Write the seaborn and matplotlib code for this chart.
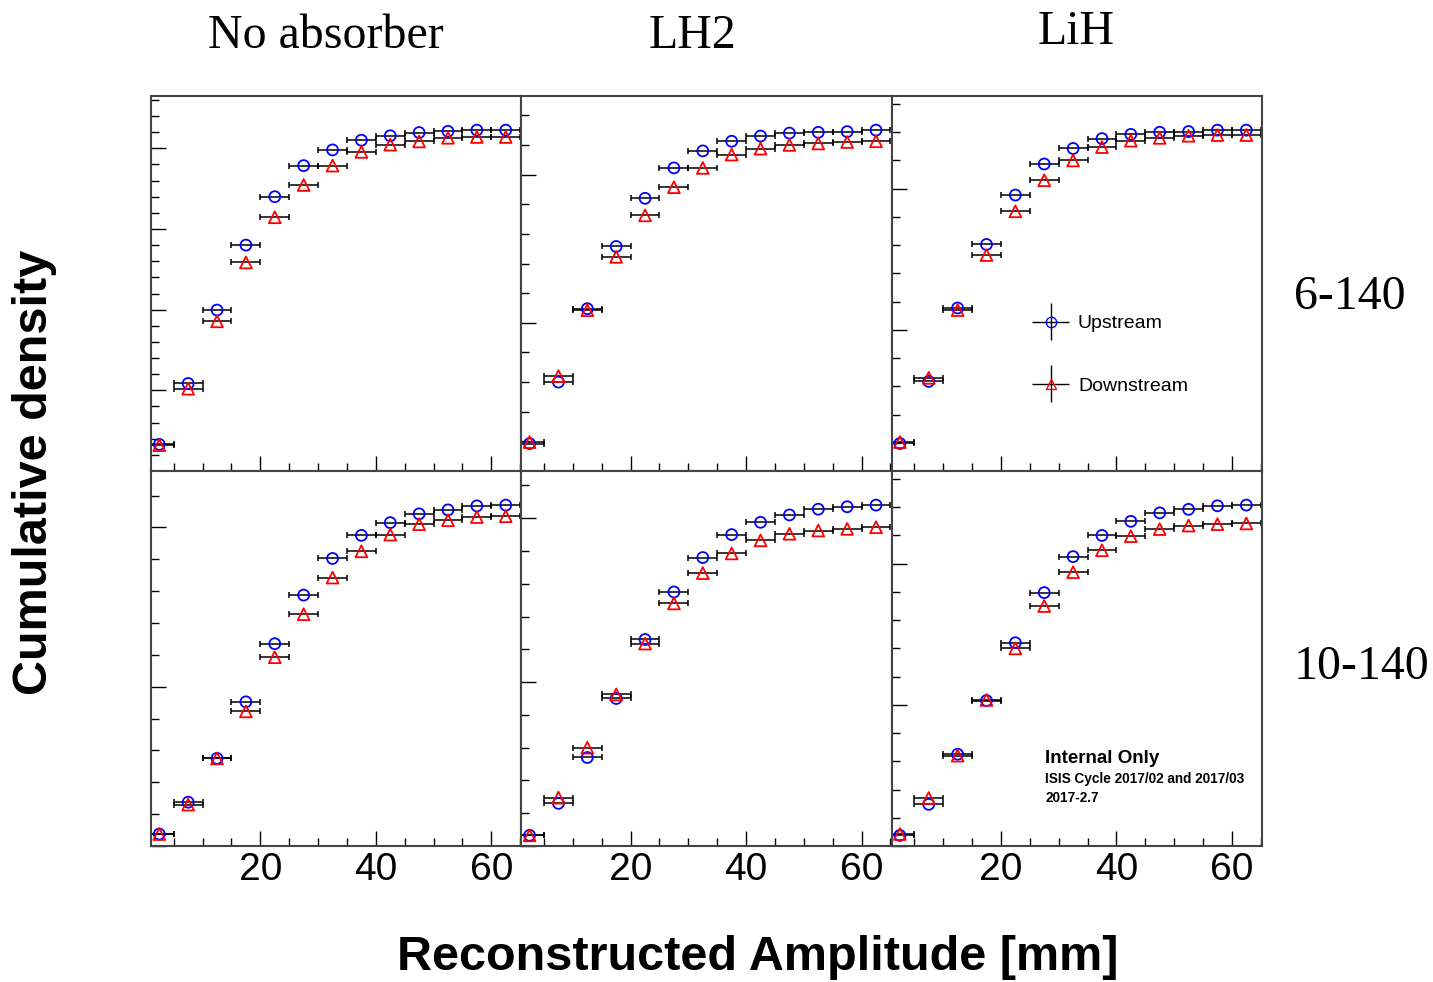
import numpy as np
import pandas as pd
import matplotlib
matplotlib.use('Agg')
import matplotlib.pyplot as plt
from matplotlib.ticker import MultipleLocator, NullFormatter
from matplotlib.container import ErrorbarContainer
from matplotlib.legend_handler import HandlerErrorbar
import seaborn as sns

sns.set_style('ticks')
plt.rcParams['font.family'] = ['Liberation Sans', 'DejaVu Sans']
plt.rcParams['text.color'] = 'black'
plt.rcParams['xtick.color'] = 'black'
plt.rcParams['ytick.color'] = 'black'

# bin centres [mm], every bin is 5 mm wide
amplitude = [2.5, 7.5, 12.5, 17.5, 22.5, 27.5, 32.5, 37.5, 42.5, 47.5, 52.5, 57.5, 62.5]
bin_half_width = 2.5

absorbers = ['No absorber', 'LH2', 'LiH']
emittances = ['6-140', '10-140']

# cumulative density (rows: 6-140, 10-140; cols: No absorber, LH2, LiH)
up_6_none = [0.066, 0.217, 0.399, 0.560, 0.680, 0.757, 0.796, 0.820, 0.831, 0.839, 0.842, 0.845, 0.845]
down_6_none = [0.064, 0.204, 0.371, 0.517, 0.629, 0.709, 0.757, 0.791, 0.809, 0.817, 0.826, 0.828, 0.828]
up_6_lh2 = [0.037, 0.120, 0.219, 0.303, 0.368, 0.409, 0.432, 0.445, 0.452, 0.456, 0.457, 0.458, 0.460]
down_6_lh2 = [0.039, 0.128, 0.217, 0.289, 0.345, 0.383, 0.409, 0.427, 0.435, 0.440, 0.442, 0.444, 0.445]
up_6_lih = [0.039, 0.127, 0.231, 0.321, 0.391, 0.435, 0.457, 0.471, 0.477, 0.480, 0.481, 0.483, 0.483]
down_6_lih = [0.041, 0.132, 0.228, 0.306, 0.368, 0.412, 0.440, 0.459, 0.468, 0.472, 0.475, 0.476, 0.476]
up_10_none = [0.015, 0.055, 0.110, 0.181, 0.254, 0.315, 0.361, 0.390, 0.406, 0.417, 0.422, 0.427, 0.428]
down_10_none = [0.015, 0.052, 0.110, 0.169, 0.237, 0.291, 0.337, 0.370, 0.391, 0.404, 0.409, 0.413, 0.414]
up_10_lh2 = [0.013, 0.052, 0.108, 0.180, 0.252, 0.310, 0.352, 0.380, 0.395, 0.404, 0.411, 0.414, 0.416]
down_10_lh2 = [0.013, 0.059, 0.120, 0.185, 0.247, 0.296, 0.333, 0.357, 0.373, 0.381, 0.385, 0.387, 0.389]
up_10_lih = [0.015, 0.059, 0.130, 0.206, 0.288, 0.359, 0.410, 0.440, 0.460, 0.472, 0.477, 0.482, 0.483]
down_10_lih = [0.017, 0.068, 0.128, 0.207, 0.280, 0.340, 0.388, 0.419, 0.439, 0.449, 0.454, 0.456, 0.457]

upstream = [[up_6_none, up_6_lh2, up_6_lih], [up_10_none, up_10_lh2, up_10_lih]]
downstream = [[down_6_none, down_6_lh2, down_6_lih], [down_10_none, down_10_lh2, down_10_lih]]

frame_col = '#444444'

fig, axes = plt.subplots(2, 3, figsize=(14.33, 9.82), dpi=100)
fig.subplots_adjust(left=0.1054, right=0.8806, bottom=0.1385, top=0.9022, wspace=0, hspace=0)

for r in range(2):
    for c in range(3):
        ax = axes[r, c]
        df = pd.DataFrame({'amp': amplitude * 2,
                           'cdf': upstream[r][c] + downstream[r][c],
                           'side': ['Upstream'] * 13 + ['Downstream'] * 13})
        up = df[df['side'] == 'Upstream']
        dn = df[df['side'] == 'Downstream']
        ax.errorbar(up['amp'], up['cdf'], xerr=bin_half_width, fmt='none', ecolor='black',
                    elinewidth=1.1, capsize=2, capthick=1.1, zorder=2)
        ax.errorbar(dn['amp'], dn['cdf'], xerr=bin_half_width, fmt='none', ecolor='black',
                    elinewidth=1.1, capsize=2, capthick=1.1, zorder=2)
        sns.scatterplot(data=up, x='amp', y='cdf', marker='o', s=62, fc='none', ec='blue',
                        linewidth=1.3, ax=ax, zorder=3)
        sns.scatterplot(data=dn, x='amp', y='cdf', marker='^', s=72, fc='none', ec='red',
                        linewidth=1.3, ax=ax, zorder=3)

        ax.set_xlim(1.07, 65.2)
        ax.set_ylim(0, 1.1 * max(upstream[r][c]))
        ax.xaxis.set_major_locator(MultipleLocator(20))
        ax.xaxis.set_minor_locator(MultipleLocator(5))
        ax.yaxis.set_major_locator(MultipleLocator(0.2))
        ax.yaxis.set_minor_locator(MultipleLocator(0.04))
        ax.yaxis.set_major_formatter(NullFormatter())
        if r == 0:
            ax.xaxis.set_major_formatter(NullFormatter())
        ax.tick_params(which='both', direction='in', top=False, right=False, color='black', width=1)
        ax.tick_params(which='major', length=11, labelsize=28, pad=4, labelcolor='black')
        ax.tick_params(which='minor', length=6)
        ax.set_xlabel('')
        ax.set_ylabel('')
        for sp in ax.spines.values():
            sp.set_color(frame_col)
            sp.set_linewidth(1.5)
            sp.set_visible(True)

# legend in the LiH 6-140 panel
ax = axes[0, 2]
h_up = ax.errorbar([np.nan], [np.nan], xerr=[1], yerr=[1], fmt='o', mfc='none', mec='blue',
                   ms=7.5, ecolor='black', elinewidth=1, capsize=0, label='Upstream')
h_dn = ax.errorbar([np.nan], [np.nan], xerr=[1], yerr=[1], fmt='^', mfc='none', mec='red',
                   ms=7.5, ecolor='black', elinewidth=1, capsize=0, label='Downstream')
ax.legend(handles=[h_up, h_dn], loc='center left', bbox_to_anchor=(0.33, 0.31), frameon=False,
          fontsize=14, labelspacing=2.3, handlelength=2.0, handletextpad=0.4,
          handler_map={ErrorbarContainer: HandlerErrorbar(xerr_size=0.95, yerr_size=0.95)})

# watermark in the LiH 10-140 panel
ax = axes[1, 2]
ax.text(0.415, 0.232, 'Internal Only', transform=ax.transAxes, fontsize=13.5,
        fontweight='bold', va='center', ha='left')
ax.text(0.415, 0.178, 'ISIS Cycle 2017/02 and 2017/03', transform=ax.transAxes, fontsize=9.8,
        fontweight='bold', va='center', ha='left')
ax.text(0.415, 0.127, '2017-2.7', transform=ax.transAxes, fontsize=9.8,
        fontweight='bold', va='center', ha='left')

# column and row headings
col_x = [326, 692, 1076]
col_y = [36, 36, 32]
for name, x, y in zip(absorbers, col_x, col_y):
    fig.text(x / 1433, 1 - y / 982, name, ha='center', va='center', fontsize=34.5,
             family='Liberation Serif')
row_x = [1350, 1362]
row_y = [297, 667]
for name, x, y in zip(emittances, row_x, row_y):
    fig.text(x / 1433, 1 - y / 982, name, ha='center', va='center', fontsize=34.5,
             family='Liberation Serif')

fig.text(35 / 1433, 1 - 472 / 982, 'Cumulative density', rotation=90, ha='center', va='center',
         fontsize=35, fontweight='bold')
fig.text(758 / 1433, 1 - 957 / 982, 'Reconstructed Amplitude [mm]', ha='center', va='center',
         fontsize=35, fontweight='bold')

fig.savefig('out.png', dpi=100)
